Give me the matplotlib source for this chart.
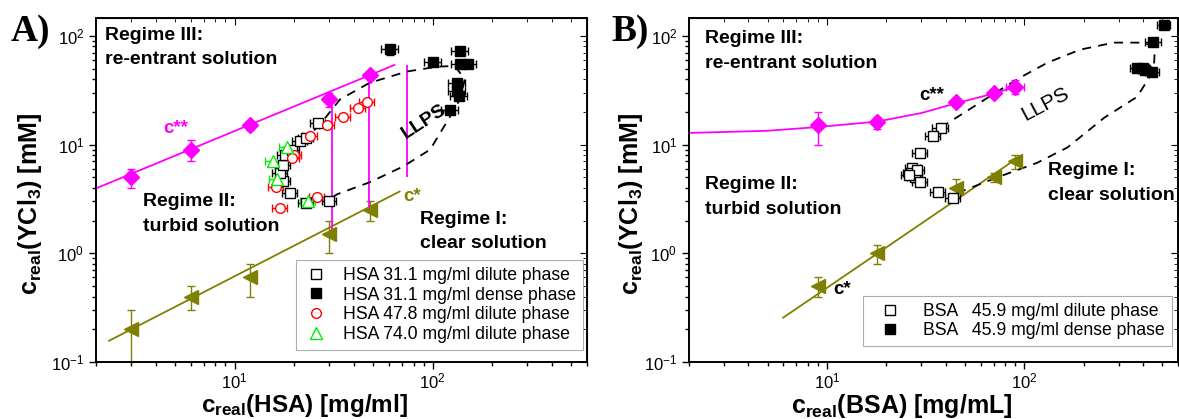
import numpy as np
import matplotlib
matplotlib.use("Agg")
import matplotlib.pyplot as plt
from matplotlib.lines import Line2D
from matplotlib.ticker import LogLocator, NullFormatter

plt.rcParams['font.family'] = ['Liberation Sans', 'DejaVu Sans']
plt.rcParams['mathtext.fontset'] = 'custom'
plt.rcParams['mathtext.rm'] = 'Liberation Sans'
plt.rcParams['mathtext.bf'] = 'Liberation Sans:bold'
plt.rcParams['mathtext.it'] = 'Liberation Sans:italic'
plt.rcParams['mathtext.default'] = 'regular'

MAG = '#ff00ff'
OLV = '#808000'

# ---------------- Panel A: HSA ----------------
hsa_cc_x = [3, 6, 12, 30, 48]            # c** points
hsa_cc_y = [5, 9, 15, 26, 44]
hsa_cc_yerr = [1, 2, 1.5, 4, 3]
hsa_cc_fit_x = [2.03, 64]
hsa_cc_fit_y = [4.0, 54]

hsa_c_x = [3, 6, 12, 30, 48]             # c* points
hsa_c_y = [0.2, 0.4, 0.6, 1.5, 2.5]
hsa_c_yerr = [0.1, 0.1, 0.2, 0.5, 0.5]
hsa_c_fit_x = [2.33, 68]
hsa_c_fit_y = [0.157, 3.7]

hsa_tie_x = [31, 47.5, 74]               # vertical magenta lines
hsa_tie_top = [26, 44, 54]
hsa_tie_bot = [1.5, 2.5, 5.0]

hsa31_dil_x = [30, 23, 19, 17.5, 17, 17.5, 18, 19.5, 21.3, 23, 26.4]
hsa31_dil_y = [3.0, 2.9, 3.6, 4.6, 5.5, 6.5, 8.1, 9.0, 10.7, 11.5, 15.9]
hsa31_dil_xerr = [2.5, 2, 1.7, 1.5, 1.5, 1.5, 1.6, 1.7, 1.9, 2, 2.3]

hsa31_den_x = [61, 100, 137, 137, 150, 132, 133, 135, 122]
hsa31_den_y = [75, 57, 72, 55, 55, 37, 31, 28, 21]
hsa31_den_xerr = [6, 10, 14, 14, 15, 13, 13, 13, 12]
hsa31_den_yerr = [8, 0, 0, 0, 0, 0, 0, 0, 0]

hsa47_dil_x = [46.6, 42, 35.3, 29.3, 24.1, 19.9, 16.2, 17.0, 26.1, 19.5]
hsa47_dil_y = [24.9, 21.9, 18.1, 15.3, 11.9, 8.1, 4.1, 2.6, 3.3, 7.5]
hsa47_dil_xerr = [4, 3.7, 3.1, 2.6, 2.1, 1.8, 1.4, 1.5, 2.3, 1.7]

hsa74_dil_x = [18.5, 15.7, 16.4, 23.5]
hsa74_dil_y = [9.6, 7.0, 4.8, 3.0]
hsa74_dil_xerr = [1.7, 1.4, 1.5, 2.1]

hsa_llps_x = [22, 27, 34, 48, 74, 105, 129, 145, 137, 122, 97, 71, 48, 33, 29]
hsa_llps_y = [10.6, 15.3, 26, 37, 47, 52, 53, 40, 26, 18, 9.0, 6.3, 4.5, 3.5, 3.0]

# ---------------- Panel B: BSA ----------------
bsa_cc_x = [9, 18, 45, 70, 90]
bsa_cc_y = [15, 16, 24.5, 30, 34]
bsa_cc_yerr = [5, 2, 2, 2, 5]
bsa_cc_xerr = [0, 0, 0, 0, 9]
bsa_cc_fit_x = [2, 5, 9, 18, 30, 45, 70, 90]
bsa_cc_fit_y = [12.8, 13.4, 14.5, 16.3, 19.5, 24, 29.5, 34]

bsa_c_x = [9, 18, 45, 70, 90]
bsa_c_y = [0.5, 1.0, 4.0, 5.0, 7.0]
bsa_c_yerr = [0.1, 0.2, 0.8, 0.5, 1.0]
bsa_c_fit_x = [6, 90]
bsa_c_fit_y = [0.256, 7.3]

bsa_dil_x = [37.6, 34.4, 29.5, 27.1, 26.6, 27.8, 29.5, 36.4, 43.3, 28.5, 26]
bsa_dil_y = [14.3, 11.9, 8.4, 6.1, 5.5, 5.0, 4.5, 3.7, 3.25, 5.8, 5.2]
bsa_dil_xerr = [3.4, 3.1, 2.7, 2.4, 2.4, 2.5, 2.7, 3.3, 3.9, 2.6, 2.3]

bsa_den_x = [509, 449, 372, 408, 443, 397]
bsa_den_y = [127, 87, 51, 49, 47, 51]
bsa_den_xerr = [40, 40, 30, 30, 35, 30]

bsa_llps_x = [37.6, 73, 95, 131, 192, 284, 403, 458, 452, 432, 372, 254, 165, 116, 73, 46]
bsa_llps_y = [14.3, 30.8, 41.3, 56.8, 74.8, 86.7, 86.7, 78, 49, 42.3, 27.5, 17.7, 9.4, 6.8, 5.0, 3.6]

fig = plt.figure(figsize=(11.79, 4.19), dpi=100)
axA = fig.add_axes([0.0814, 0.136, 0.4165, 0.821])
axB = fig.add_axes([0.5844, 0.136, 0.4148, 0.821])

ebkw = dict(capsize=3, elinewidth=1, capthick=1, linestyle='none')


def style_axes(ax):
    ax.set_xscale('log')
    ax.set_yscale('log')
    ax.set_xlim(2, 600)
    ax.set_ylim(0.1, 146)
    ax.xaxis.set_major_locator(LogLocator(base=10))
    ax.yaxis.set_major_locator(LogLocator(base=10))
    ax.xaxis.set_minor_locator(LogLocator(base=10, subs=np.arange(2, 10)))
    ax.yaxis.set_minor_locator(LogLocator(base=10, subs=np.arange(2, 10)))
    ax.xaxis.set_minor_formatter(NullFormatter())
    ax.yaxis.set_minor_formatter(NullFormatter())
    ax.tick_params(which='major', direction='out', length=5, width=1, labelsize=12)
    ax.tick_params(which='minor', direction='out', length=3, width=1)
    ax.tick_params(axis='x', which='major', pad=1.5)
    for s in ax.spines.values():
        s.set_linewidth(1.4)
    top = ax.secondary_xaxis('top')
    top.tick_params(which='major', direction='in', length=5, labeltop=False)
    top.tick_params(which='minor', direction='in', length=3)
    top.xaxis.set_minor_locator(LogLocator(base=10, subs=np.arange(2, 10)))
    top.xaxis.set_minor_formatter(NullFormatter())
    right = ax.secondary_yaxis('right')
    right.tick_params(which='major', direction='in', length=5, labelright=False)
    right.tick_params(which='minor', direction='in', length=3)
    right.yaxis.set_minor_locator(LogLocator(base=10, subs=np.arange(2, 10)))
    right.yaxis.set_minor_formatter(NullFormatter())


# ---- panel A ----
ax = axA
style_axes(ax)
ax.plot(hsa_cc_fit_x, hsa_cc_fit_y, color=MAG, lw=1.3)
ax.errorbar(hsa_cc_x, hsa_cc_y, yerr=hsa_cc_yerr, marker='D', ms=8, color=MAG, **ebkw)
ax.plot(hsa_c_fit_x, hsa_c_fit_y, color=OLV, lw=1.3)
ax.errorbar(hsa_c_x, hsa_c_y, yerr=hsa_c_yerr, marker='<', ms=10, color=OLV, **ebkw)
ax.vlines(hsa_tie_x, hsa_tie_bot, hsa_tie_top, color=MAG, lw=1.3)
ax.plot(hsa_llps_x, hsa_llps_y, color='k', lw=1.3, ls=(0, (5, 4)))
ax.errorbar(hsa31_dil_x, hsa31_dil_y, xerr=hsa31_dil_xerr, marker='s', ms=7, mfc='white',
            mec='k', color='k', **ebkw)
ax.errorbar(hsa31_den_x, hsa31_den_y, xerr=hsa31_den_xerr, yerr=hsa31_den_yerr, marker='s',
            ms=7, color='k', **ebkw)
ax.errorbar(hsa47_dil_x, hsa47_dil_y, xerr=hsa47_dil_xerr, marker='o', ms=7, mfc='white',
            mec='red', color='red', **ebkw)
ax.errorbar(hsa74_dil_x, hsa74_dil_y, xerr=hsa74_dil_xerr, marker='^', ms=8, mfc='white',
            mec='#00ee00', color='#00ee00', **ebkw)

tb = dict(fontsize=14, fontweight='bold', transform=ax.transAxes, linespacing=1.6)
ax.text(0.018, 0.975, 'Regime III:\nre-entrant solution', va='top', ha='left', **tb)
ax.text(0.096, 0.492, 'Regime II:\nturbid solution', va='top', ha='left', **tb)
ax.text(0.66, 0.44, 'Regime I:\nclear solution', va='top', ha='left', **tb)
ax.text(0.136, 0.68, 'c**', color=MAG, fontsize=13.5, fontweight='bold', va='center',
        ha='left', transform=ax.transAxes)
ax.text(0.625, 0.48, 'c*', color=OLV, fontsize=13.5, fontweight='bold', va='center',
        ha='left', transform=ax.transAxes)
ax.text(0.668, 0.698, 'LLPS', fontsize=14, fontweight='bold', rotation=33, va='center',
        ha='center', transform=ax.transAxes)

handles = [
    Line2D([], [], ls='none', marker='s', ms=7, mfc='white', mec='k'),
    Line2D([], [], ls='none', marker='s', ms=7, mfc='k', mec='k'),
    Line2D([], [], ls='none', marker='o', ms=7, mfc='white', mec='red'),
    Line2D([], [], ls='none', marker='^', ms=8, mfc='white', mec='#00ee00'),
]
labels = ['HSA 31.1 mg/ml dilute phase', 'HSA 31.1 mg/ml dense phase',
          'HSA 47.8 mg/ml dilute phase', 'HSA 74.0 mg/ml dilute phase']
leg = ax.legend(handles, labels, loc='lower right', bbox_to_anchor=(1.0, 0.025),
                fontsize=12.7, frameon=True, fancybox=False, edgecolor='#999999',
                handlelength=1.5, labelspacing=0.15, borderaxespad=0.2)
leg.get_frame().set_linewidth(0.8)

ax.set_ylabel(r'$\mathbf{c_{real}(YCl_{3})\ [mM]}$', fontsize=18)
ax.set_xlabel(r'$\mathbf{c_{real}(HSA)\ [mg/ml]}$', fontsize=17.5)
ax.yaxis.set_label_coords(-0.105, 0.46)
ax.xaxis.set_label_coords(0.425, -0.087)

# ---- panel B ----
ax = axB
style_axes(ax)
ax.plot(bsa_cc_fit_x, bsa_cc_fit_y, color=MAG, lw=1.3)
ax.errorbar(bsa_cc_x, bsa_cc_y, yerr=bsa_cc_yerr, xerr=bsa_cc_xerr, marker='D', ms=8,
            color=MAG, **ebkw)
ax.plot(bsa_c_fit_x, bsa_c_fit_y, color=OLV, lw=1.3)
ax.errorbar(bsa_c_x, bsa_c_y, yerr=bsa_c_yerr, marker='<', ms=10, color=OLV, **ebkw)
ax.plot(bsa_llps_x, bsa_llps_y, color='k', lw=1.3, ls=(0, (5, 4)))
ax.errorbar(bsa_dil_x, bsa_dil_y, xerr=bsa_dil_xerr, marker='s', ms=7, mfc='white',
            mec='k', color='k', **ebkw)
ax.errorbar(bsa_den_x, bsa_den_y, xerr=bsa_den_xerr, marker='s', ms=7, color='k', **ebkw)

tb = dict(fontsize=14, fontweight='bold', transform=ax.transAxes, linespacing=1.6)
ax.text(0.033, 0.965, 'Regime III:\nre-entrant solution', va='top', ha='left', **tb)
ax.text(0.033, 0.54, 'Regime II:\nturbid solution', va='top', ha='left', **tb)
ax.text(0.734, 0.58, 'Regime I:\nclear solution', va='top', ha='left', **tb)
ax.text(0.47, 0.776, 'c**', fontsize=13.5, fontweight='bold', va='center', ha='left',
        transform=ax.transAxes)
ax.text(0.295, 0.21, 'c*', fontsize=13.5, fontweight='bold', va='center', ha='left',
        transform=ax.transAxes)
ax.text(0.728, 0.75, 'LLPS', fontsize=15, rotation=28, va='center', ha='center',
        transform=ax.transAxes)

handles = [
    Line2D([], [], ls='none', marker='s', ms=7, mfc='white', mec='k'),
    Line2D([], [], ls='none', marker='s', ms=7, mfc='k', mec='k'),
]
labels = ['BSA   45.9 mg/ml dilute phase', 'BSA   45.9 mg/ml dense phase']
leg = ax.legend(handles, labels, loc='lower right', bbox_to_anchor=(0.995, 0.035),
                fontsize=12.7, frameon=True, fancybox=False, edgecolor='#999999',
                handlelength=2.2, labelspacing=0.15, borderaxespad=0.2)
leg.get_frame().set_linewidth(0.8)

ax.set_ylabel(r'$\mathbf{c_{real}(YCl_{3})\ [mM]}$', fontsize=18)
ax.set_xlabel(r'$\mathbf{c_{real}(BSA)\ [mg/mL]}$', fontsize=18)
ax.yaxis.set_label_coords(-0.09, 0.46)
ax.xaxis.set_label_coords(0.436, -0.087)

fig.text(0.009, 0.967, 'A)', fontsize=27, family='Liberation Serif', fontweight='bold',
         va='top')
fig.text(0.519, 0.967, 'B)', fontsize=27, family='Liberation Serif', fontweight='bold',
         va='top')

fig.savefig('out.png', dpi=100)
